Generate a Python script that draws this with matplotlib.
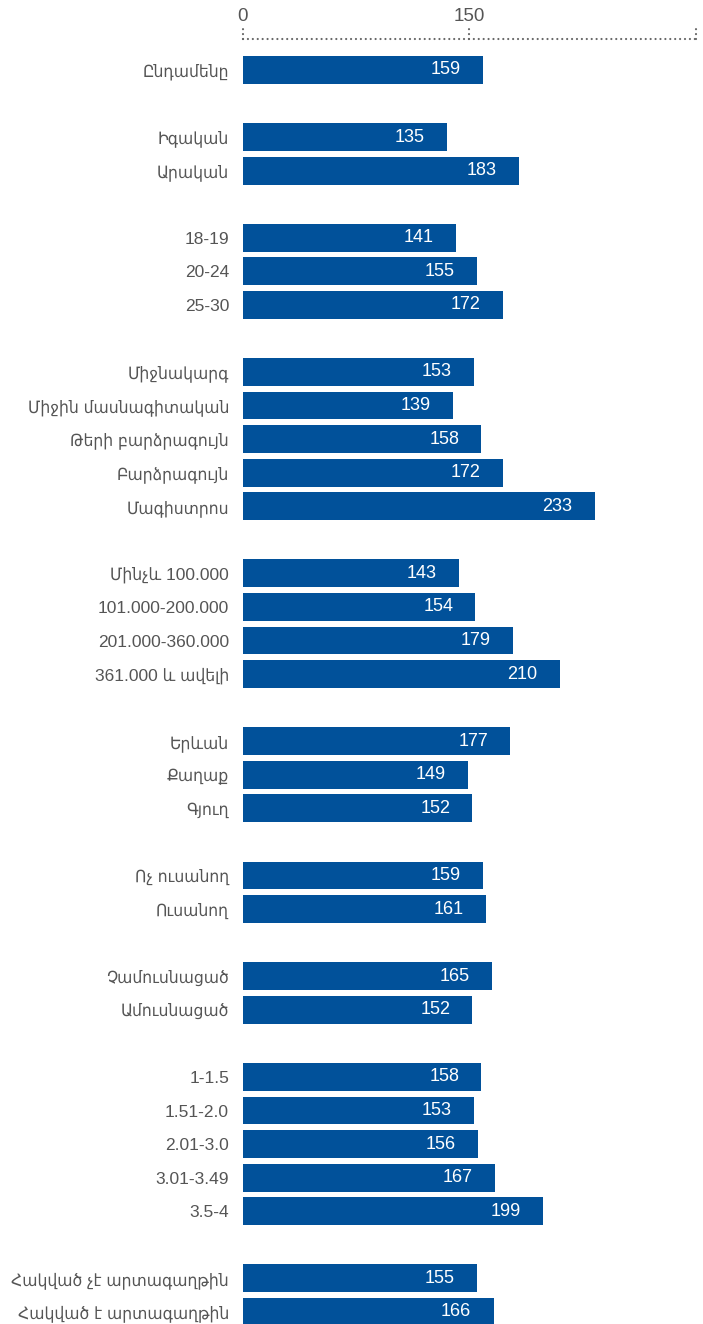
import matplotlib
matplotlib.use("Agg")
import matplotlib.pyplot as plt

plt.rcParams['font.family'] = ['Liberation Sans', 'DejaVu Sans']

groups = [
    (["Ընդամենը"], [159]),
    (["Իգական", "Արական"], [135, 183]),
    (["18-19", "20-24", "25-30"], [141, 155, 172]),
    (["Միջնակարգ", "Միջին մասնագիտական", "Թերի բարձրագույն", "Բարձրագույն", "Մագիստրոս"],
     [153, 139, 158, 172, 233]),
    (["Մինչև 100.000", "101.000-200.000", "201.000-360.000", "361.000 և ավելի"],
     [143, 154, 179, 210]),
    (["Երևան", "Քաղաք", "Գյուղ"], [177, 149, 152]),
    (["Ոչ ուսանող", "Ուսանող"], [159, 161]),
    (["Չամուսնացած", "Ամուսնացած"], [165, 152]),
    (["1-1.5", "1.51-2.0", "2.01-3.0", "3.01-3.49", "3.5-4"], [158, 153, 156, 167, 199]),
    (["Հակված չէ արտագաղթին", "Հակված է արտագաղթին"], [155, 166]),
]
x_ticks = [0, 150, 300]
x_ticklabels = ["0", "150", ""]

labels, values, positions = [], [], []
row = 0
for cats, vals in groups:
    for c, v in zip(cats, vals):
        labels.append(c)
        values.append(v)
        positions.append(row)
        row += 1
    row += 1  # blank row between groups

bar_color = "#01519A"
text_gray = "#555555"
axis_gray = "#666666"

fig = plt.figure(figsize=(7.03, 13.24), dpi=100)
ax = fig.add_axes([243 / 703, 0.0, (698 - 243) / 703, 1 - 39 / 1324])

ax.barh(positions, values, height=0.83, color=bar_color)
for p, v in zip(positions, values):
    ax.annotate(str(v), xy=(v, p), xytext=(-16, 0), textcoords="offset points",
                ha="right", va="center", color="white", fontsize=13)

ax.set_xlim(0, 301.5)
ax.set_ylim(positions[-1] + 0.36, -0.92)

ax.set_yticks(positions)
ax.set_yticklabels(labels, fontsize=12.5, color=text_gray, fontstretch="condensed")
ax.tick_params(axis="y", length=0, pad=10)

ax.xaxis.tick_top()
ax.set_xticks(x_ticks)
ax.set_xticklabels(x_ticklabels, fontsize=13.5, color=text_gray)
ax.tick_params(axis="x", length=0, pad=10)

for s in ["left", "right", "bottom", "top"]:
    ax.spines[s].set_visible(False)

dot_style = (0, (0.01, 2.2))
trans = ax.get_xaxis_transform()
ax.plot([0, 1], [1, 1], transform=ax.transAxes, clip_on=False, color=axis_gray,
        linestyle=dot_style, linewidth=1.6, dash_capstyle="round")
for t in x_ticks:
    ax.plot([t, t], [1.0, 1.0 + 13 / 1285], transform=trans, clip_on=False,
            color=axis_gray, linestyle=dot_style, linewidth=1.6, dash_capstyle="round")

fig.savefig("out.png", dpi=100)
